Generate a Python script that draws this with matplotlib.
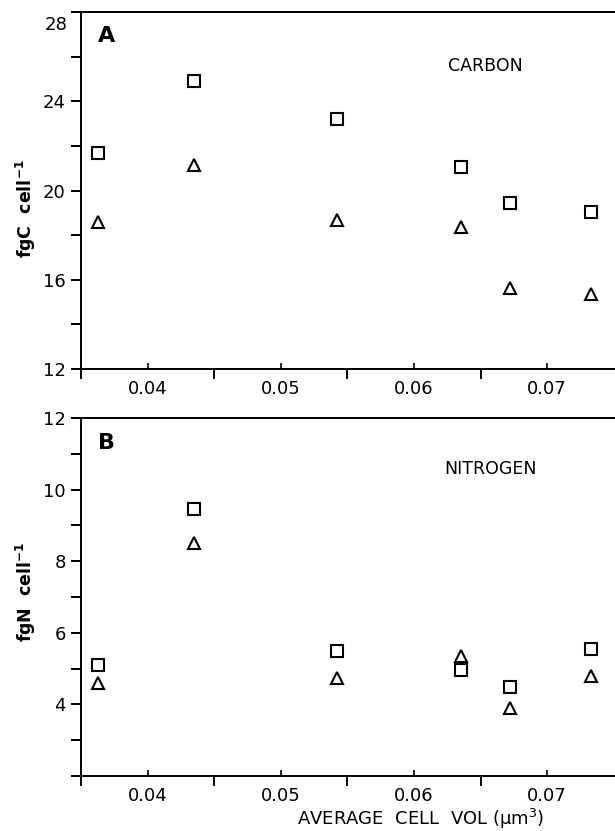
import matplotlib
matplotlib.use('Agg')
import matplotlib.pyplot as plt
from matplotlib.ticker import FixedLocator, MultipleLocator, NullFormatter, FormatStrFormatter, FuncFormatter

# average cell volume (um^3)
cell_vol = [0.0363, 0.0435, 0.0542, 0.0635, 0.0672, 0.0733]

# panel A: carbon per cell
carbon_sq = [21.7, 24.9, 23.2, 21.05, 19.45, 19.05]
carbon_tri = [18.6, 21.15, 18.7, 18.35, 15.65, 15.35]

# panel B: nitrogen per cell
nitrogen_sq = [5.1, 9.45, 5.5, 4.95, 4.5, 5.55]
nitrogen_tri = [4.6, 8.5, 4.75, 5.35, 3.9, 4.8]

x_labels = [0.04, 0.05, 0.06, 0.07]
x_cuts = [0.035, 0.045, 0.055, 0.065]

plt.rcParams['font.family'] = ['DejaVu Sans']

W, H = 615, 831
fig = plt.figure(figsize=(W / 100, H / 100), dpi=100)

def px_axes(left, top, right, bottom):
    return fig.add_axes([left / W, 1 - bottom / H, (right - left) / W, (bottom - top) / H])

ax1 = px_axes(81, 12.3, 615, 369)
ax2 = px_axes(81, 418, 615, 776)

def style(ax):
    ax.spines['right'].set_visible(False)
    for s in ('left', 'top', 'bottom'):
        ax.spines[s].set_linewidth(1.4)
    ax.set_xlim(0.035, 0.0751)
    ax.xaxis.set_major_locator(FixedLocator(x_cuts))
    ax.xaxis.set_major_formatter(NullFormatter())
    ax.xaxis.set_minor_locator(FixedLocator(x_labels))
    ax.xaxis.set_minor_formatter(FormatStrFormatter('%.2f'))
    ax.tick_params(axis='x', which='major', direction='out', length=7, width=1.4)
    ax.tick_params(axis='x', which='minor', direction='in', length=4, width=1.2,
                   labelbottom=True, labelsize=13, pad=8)
    ax.tick_params(axis='y', which='both', direction='out', length=7, width=1.4,
                   labelsize=13, pad=4)

def points(ax, sq, tri):
    ax.plot(cell_vol, sq, linestyle='none', marker='s', markersize=8.5,
            markerfacecolor='none', markeredgecolor='black', markeredgewidth=1.5)
    ax.plot(cell_vol, tri, linestyle='none', marker='^', markersize=8,
            markerfacecolor='none', markeredgecolor='black', markeredgewidth=1.5)

# panel A
style(ax1)
points(ax1, carbon_sq, carbon_tri)
ax1.set_ylim(12, 28)
ax1.yaxis.set_major_locator(MultipleLocator(4))
ax1.yaxis.set_minor_locator(MultipleLocator(2))
# the top label sits a little below its tick in the original
ax1.yaxis.set_major_formatter(FuncFormatter(lambda v, p: '' if v >= 28 else '%d' % v))
ax1.annotate('28', xy=(0, 28), xycoords=('axes fraction', 'data'),
             xytext=(-13, -13), textcoords='offset pixels',
             ha='right', va='center', fontsize=13)
ax1.set_ylabel('fgC  cell$^{\\mathregular{-1}}$', fontsize=12.5, fontweight='bold',
               va='center')
ax1.yaxis.set_label_coords(-0.103, 0.449)
ax1.text(0.032, 0.934, 'A', transform=ax1.transAxes, fontsize=16,
         fontweight='bold', va='center', ha='left')
ax1.text(0.687, 0.849, 'CARBON', transform=ax1.transAxes, fontsize=12.5,
         va='center', ha='left')

# panel B
style(ax2)
points(ax2, nitrogen_sq, nitrogen_tri)
ax2.set_ylim(2, 12)
ax2.yaxis.set_major_locator(FixedLocator([4, 6, 8, 10, 12]))
ax2.yaxis.set_minor_locator(MultipleLocator(1))
ax2.yaxis.set_major_formatter(FormatStrFormatter('%d'))
ax2.set_ylabel('fgN  cell$^{\\mathregular{-1}}$', fontsize=12.5, fontweight='bold',
               va='center')
ax2.yaxis.set_label_coords(-0.103, 0.514)
ax2.text(0.032, 0.930, 'B', transform=ax2.transAxes, fontsize=16,
         fontweight='bold', va='center', ha='left')
ax2.text(0.681, 0.858, 'NITROGEN', transform=ax2.transAxes, fontsize=12.5,
         va='center', ha='left')
ax2.set_xlabel('AVERAGE  CELL  VOL (\u03bcm$^{\\mathregular{3}}$)', fontsize=13)
ax2.xaxis.label.set_va('center')
ax2.xaxis.set_label_coords(0.637, -0.12)

plt.savefig('out.png', dpi=100)
